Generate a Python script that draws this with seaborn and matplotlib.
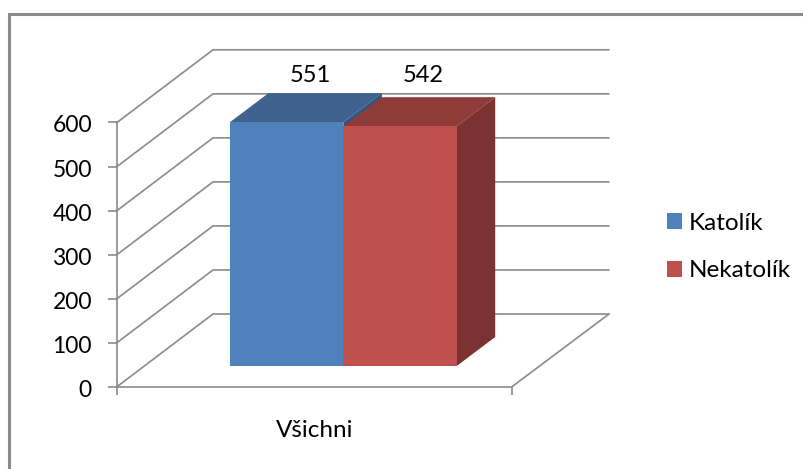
import matplotlib
matplotlib.use('Agg')
import matplotlib.pyplot as plt
import pandas as pd
import seaborn as sns
from matplotlib.lines import Line2D
from matplotlib.patches import Polygon, Rectangle
from matplotlib.transforms import IdentityTransform, ScaledTranslation

# values
skupina = ['Všichni']
katolik = [551]
nekatolik = [542]
serie_names = ['Katolík', 'Nekatolík']
y_ticks = [0, 100, 200, 300, 400, 500, 600]

W, H = 804, 469
GRAY = '#8a8a8a'
FRONT = ['#4F81BD', '#C0504D']
TOP = ['#3F628F', '#8E3B39']
SIDE = ['#2F5580', '#7B3230']

sns.set_theme(style='white')
plt.rcParams['font.family'] = ['Lato', 'DejaVu Sans']
plt.rcParams['text.color'] = '#000000'
plt.rcParams['xtick.labelcolor'] = '#000000'
plt.rcParams['ytick.labelcolor'] = '#000000'


def axes_px(fig, left, top, right, bottom):
    # axes box given in image pixels (y from the top)
    return fig.add_axes([left / W, 1 - bottom / H, (right - left) / W, (bottom - top) / H])


df = pd.DataFrame({
    'skupina': skupina * 2,
    'nabozenstvi': serie_names,
    'pocet': katolik + nekatolik,
})

fig = plt.figure(figsize=(W / 100, H / 100), dpi=100, facecolor='white')

# chart frame, only top and left are visible in the picture
fig.add_artist(Line2D([9, 9, W], [0, H - 14, H - 14], color=GRAY, lw=2.2,
                      transform=IdentityTransform(), solid_joinstyle='miter'))

# front plane of the axes
ax = axes_px(fig, 117, 122.5, 512, 386.7)
ax.set_xlim(-0.5, 0.5)
ax.set_ylim(0, 600)
ax.patch.set_alpha(0)
for s in ['top', 'right']:
    ax.spines[s].set_visible(False)
for s in ['left', 'bottom']:
    ax.spines[s].set_color(GRAY)
    ax.spines[s].set_linewidth(1.2)
ax.set_yticks(y_ticks)
ax.set_xticks([-0.5, 0.5])
ax.set_xticklabels(['', ''])
ax.set_xticks([0], labels=skupina, minor=True)
ax.tick_params(axis='y', which='major', left=True, length=6.5, width=1.2, color=GRAY, pad=11.5, labelsize=16.5)
ax.tick_params(axis='x', which='major', bottom=True, length=6, width=1.2, color=GRAY)
ax.tick_params(axis='x', which='minor', bottom=False, length=0, pad=24, labelsize=17.5)

# numbers sit a little below their ticks in the picture
for lab in ax.get_yticklabels():
    lab.set_transform(lab.get_transform() + ScaledTranslation(0, -1.5 / 100, fig.dpi_scale_trans))

# side and back walls, one line per y tick
DEPTH_X, DEPTH_Y = 96, 72.7
BACK_RIGHT = 609
for v in y_ticks:
    x0, y0 = ax.transData.transform((-0.5, v))
    ax.add_line(Line2D([x0, x0 + DEPTH_X, BACK_RIGHT], [y0, y0 + DEPTH_Y, y0 + DEPTH_Y],
                       color=GRAY, lw=1.2, transform=IdentityTransform(), clip_on=False))
x1, y1 = ax.transData.transform((0.5, 0))
ax.add_line(Line2D([x1, x1 + DEPTH_X + 1], [y1, y1 + DEPTH_Y],
                   color=GRAY, lw=1.2, transform=IdentityTransform(), clip_on=False))

# bars sit on a plane further back than the axis
ax_bars = axes_px(fig, 145.85, 100.5, 540.85, 366)
sns.barplot(data=df, x='skupina', y='pocet', hue='nabozenstvi', hue_order=serie_names,
            palette=FRONT, saturation=1, width=0.574, gap=0, legend=False, ax=ax_bars)
ax_bars.set_xlim(-0.5, 0.5)
ax_bars.set_ylim(0, 600)
ax_bars.axis('off')

BAR_DX, BAR_DY = 38.5, 29
for i, bar in enumerate(ax_bars.patches):
    bar.set_linewidth(0)
    bar.set_zorder(3 + i * 2 + 1)
    x, w, h = bar.get_x(), bar.get_width(), bar.get_height()
    (xl, yb), (xr, yt) = ax_bars.transData.transform([(x, 0), (x + w, h)])
    side = [(xr, yb), (xr + BAR_DX, yb + BAR_DY), (xr + BAR_DX, yt + BAR_DY), (xr, yt)]
    top = [(xl, yt), (xl + BAR_DX, yt + BAR_DY), (xr + BAR_DX, yt + BAR_DY), (xr, yt)]
    ax_bars.add_patch(Polygon(side, fc=SIDE[i], lw=0, transform=IdentityTransform(), zorder=3 + i * 2, clip_on=False))
    ax_bars.add_patch(Polygon(top, fc=TOP[i], lw=0, transform=IdentityTransform(), zorder=3 + i * 2, clip_on=False))
    ax_bars.annotate(f'{h:.0f}', xy=(x + w / 2, 600), xytext=(17, 17.8), textcoords='offset points',
                     ha='center', va='center', fontsize=17, annotation_clip=False, zorder=10)

handles = [Rectangle((0, 0), 1, 1, fc=c, lw=0) for c in FRONT]
fig.legend(handles, serie_names, loc='center left', bbox_to_anchor=(667 / W, 1 - 247 / H),
           frameon=False, fontsize=17.5, handlelength=0.62, handleheight=0.62,
           handletextpad=0.29, labelspacing=1.1, borderpad=0, borderaxespad=0)

fig.savefig('out.png', dpi=100)
